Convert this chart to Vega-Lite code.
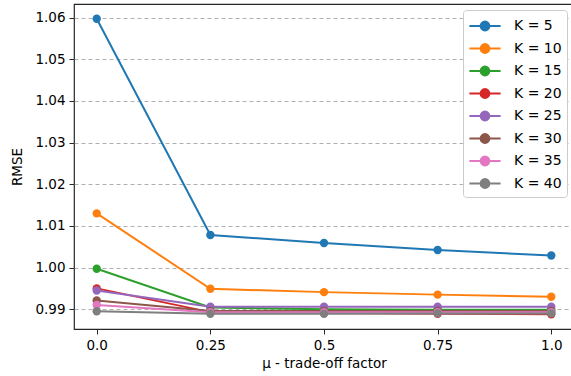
{
  "$schema": "https://vega.github.io/schema/vega-lite/v6.json",
  "width": 500,
  "height": 325,
  "autosize": "none",
  "padding": {"left": 74, "top": 4, "right": 0, "bottom": 47},
  "config": {
    "font": "DejaVu Sans",
    "view": {"stroke": "#262626", "strokeWidth": 1.2},
    "axis": {"labelFont": "DejaVu Sans", "titleFont": "DejaVu Sans", "labelFontSize": 13.5, "titleFontSize": 13.5, "titleFontWeight": "normal", "labelColor": "#000", "titleColor": "#000", "tickColor": "#262626", "domain": false, "tickSize": 5}
  },
  "data": {"values": [
    {"mu": 0.0, "K": "K = 5", "rmse": 1.0597},
    {"mu": 0.25, "K": "K = 5", "rmse": 1.0078},
    {"mu": 0.5, "K": "K = 5", "rmse": 1.0059},
    {"mu": 0.75, "K": "K = 5", "rmse": 1.0042},
    {"mu": 1.0, "K": "K = 5", "rmse": 1.0029},
    {"mu": 0.0, "K": "K = 10", "rmse": 1.0130},
    {"mu": 0.25, "K": "K = 10", "rmse": 0.9949},
    {"mu": 0.5, "K": "K = 10", "rmse": 0.9941},
    {"mu": 0.75, "K": "K = 10", "rmse": 0.9935},
    {"mu": 1.0, "K": "K = 10", "rmse": 0.9930},
    {"mu": 0.0, "K": "K = 15", "rmse": 0.9997},
    {"mu": 0.25, "K": "K = 15", "rmse": 0.9904},
    {"mu": 0.5, "K": "K = 15", "rmse": 0.9900},
    {"mu": 0.75, "K": "K = 15", "rmse": 0.9899},
    {"mu": 1.0, "K": "K = 15", "rmse": 0.9899},
    {"mu": 0.0, "K": "K = 20", "rmse": 0.9950},
    {"mu": 0.25, "K": "K = 20", "rmse": 0.9893},
    {"mu": 0.5, "K": "K = 20", "rmse": 0.9891},
    {"mu": 0.75, "K": "K = 20", "rmse": 0.9889},
    {"mu": 1.0, "K": "K = 20", "rmse": 0.9888},
    {"mu": 0.0, "K": "K = 25", "rmse": 0.9945},
    {"mu": 0.25, "K": "K = 25", "rmse": 0.9906},
    {"mu": 0.5, "K": "K = 25", "rmse": 0.9906},
    {"mu": 0.75, "K": "K = 25", "rmse": 0.9906},
    {"mu": 1.0, "K": "K = 25", "rmse": 0.9906},
    {"mu": 0.0, "K": "K = 30", "rmse": 0.9921},
    {"mu": 0.25, "K": "K = 30", "rmse": 0.9896},
    {"mu": 0.5, "K": "K = 30", "rmse": 0.9896},
    {"mu": 0.75, "K": "K = 30", "rmse": 0.9896},
    {"mu": 1.0, "K": "K = 30", "rmse": 0.9896},
    {"mu": 0.0, "K": "K = 35", "rmse": 0.9910},
    {"mu": 0.25, "K": "K = 35", "rmse": 0.9893},
    {"mu": 0.5, "K": "K = 35", "rmse": 0.9893},
    {"mu": 0.75, "K": "K = 35", "rmse": 0.9893},
    {"mu": 1.0, "K": "K = 35", "rmse": 0.9893},
    {"mu": 0.0, "K": "K = 40", "rmse": 0.9895},
    {"mu": 0.25, "K": "K = 40", "rmse": 0.9889},
    {"mu": 0.5, "K": "K = 40", "rmse": 0.9889},
    {"mu": 0.75, "K": "K = 40", "rmse": 0.9890},
    {"mu": 1.0, "K": "K = 40", "rmse": 0.9890}
  ]},
  "mark": {"type": "line", "strokeWidth": 2, "point": {"filled": true, "size": 70, "opacity": 1}},
  "encoding": {
    "x": {"field": "mu", "type": "quantitative", "title": "μ - trade-off factor",
      "scale": {"domain": [-0.05, 1.05], "nice": false, "zero": false},
      "axis": {"values": [0, 0.25, 0.5, 0.75, 1.0], "grid": false, "labelExpr": "datum.value == 0 ? '0.0' : datum.value == 1 ? '1.0' : format(datum.value, '.2~f')", "labelPadding": 4, "titlePadding": 5}},
    "y": {"field": "rmse", "type": "quantitative", "title": "RMSE",
      "scale": {"domain": [0.98525, 1.06325], "nice": false, "zero": false},
      "axis": {"values": [0.99, 1.0, 1.01, 1.02, 1.03, 1.04, 1.05, 1.06], "format": ".2f", "grid": true, "gridDash": [4, 3], "gridColor": "#b0b0b0", "gridWidth": 1, "labelPadding": 4, "titlePadding": 10}},
    "color": {"field": "K", "type": "nominal",
      "scale": {"domain": ["K = 5", "K = 10", "K = 15", "K = 20", "K = 25", "K = 30", "K = 35", "K = 40"],
        "range": ["#1f77b4", "#ff7f0e", "#2ca02c", "#d62728", "#9467bd", "#8c564b", "#e377c2", "#7f7f7f"]},
      "legend": {"title": null, "orient": "none", "legendX": 389, "legendY": 6, "labelFontSize": 14, "labelColor": "#000", "rowPadding": 2.5,
        "symbolType": "M-1.6,0L1.6,0M-0.45,0A0.45,0.45 0 1,1 0.45,0A0.45,0.45 0 1,1 -0.45,0Z", "symbolSize": 380, "symbolStrokeWidth": 2,
        "symbolOffset": 6, "labelOffset": 18,
        "fillColor": "white", "strokeColor": "#cccccc", "padding": 5, "cornerRadius": 3}}
  }
}
